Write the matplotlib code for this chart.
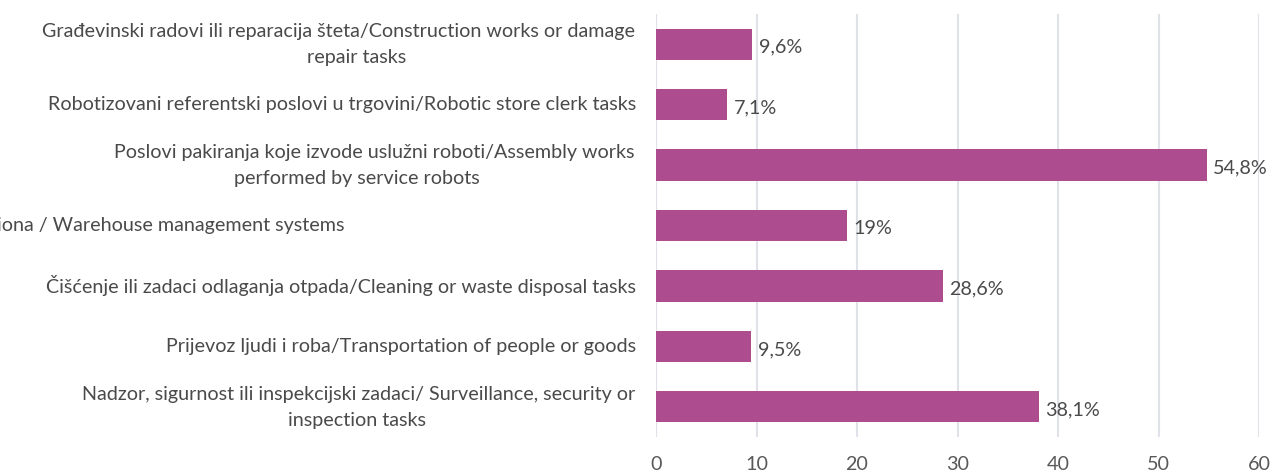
import matplotlib.pyplot as plt
from matplotlib import transforms

# top to bottom
labels = [
    "Građevinski radovi ili reparacija šteta/Construction works or damage\nrepair tasks",
    "Robotizovani referentski poslovi u trgovini/Robotic store clerk tasks",
    "Poslovi pakiranja koje izvode uslužni roboti/Assembly works\nperformed by service robots",
    "Sustavi za upravljanje skladištima i zalihama robe u zemljama regiona / Warehouse management systems",
    "Čišćenje ili zadaci odlaganja otpada/Cleaning or waste disposal tasks",
    "Prijevoz ljudi i roba/Transportation of people or goods",
    "Nadzor, sigurnost ili inspekcijski zadaci/ Surveillance, security or\ninspection tasks",
]
values = [9.6, 7.1, 54.8, 19, 28.6, 9.5, 38.1]
value_labels = ["9,6%", "7,1%", "54,8%", "19%", "28,6%", "9,5%", "38,1%"]
xticks = [0, 10, 20, 30, 40, 50, 60]

bar_color = "#AD4C8E"
grid_color = "#DFE2E9"
text_color = "#4A4A4A"

plt.rcParams['font.family'] = ['Lato', 'DejaVu Sans']
fs = 14.2

fig = plt.figure(figsize=(12.76, 4.73), dpi=100)
ax = fig.add_axes([656/1276, 1-437/473, (1259-656)/1276, (437-14)/473])

ypos = list(range(len(values)))[::-1]
ax.barh(ypos, values, height=0.52, color=bar_color, zorder=3)
for y, v, s in zip(ypos, values, value_labels):
    ax.text(v + 0.6, y - 0.05, s, va='center', ha='left', fontsize=fs, color=text_color)

ax.set_xlim(0, 60)
ax.set_ylim(-0.5, len(values) - 0.5)
ax.set_xticks(xticks)
ax.set_xticklabels([str(t) for t in xticks])
ax.set_yticks([])
ax.tick_params(axis='x', length=0, pad=14, labelsize=fs, labelcolor='#595959')
ax.grid(axis='x', color=grid_color, linewidth=1.5, zorder=0)
for sp in ax.spines.values():
    sp.set_visible(False)

# category labels, Excel-like: first line right-aligned, wrapped line centred
trans = transforms.blended_transform_factory(fig.transFigure, ax.transData)
for y, lab in zip(ypos, labels):
    lines = lab.split("\n")
    if len(lines) == 2:
        ax.text(635/1276, y + 0.21, lines[0], transform=trans, ha='right', va='center',
                fontsize=fs, color=text_color, clip_on=False)
        ax.text(357/1276, y - 0.22, lines[1], transform=trans, ha='center', va='center',
                fontsize=fs, color=text_color, clip_on=False)
    else:
        x = 345 if "Warehouse" in lab else 636
        ax.text(x/1276, y, lab, transform=trans, ha='right', va='center',
                fontsize=fs, color=text_color, clip_on=False)

fig.savefig("out.png", dpi=100)
